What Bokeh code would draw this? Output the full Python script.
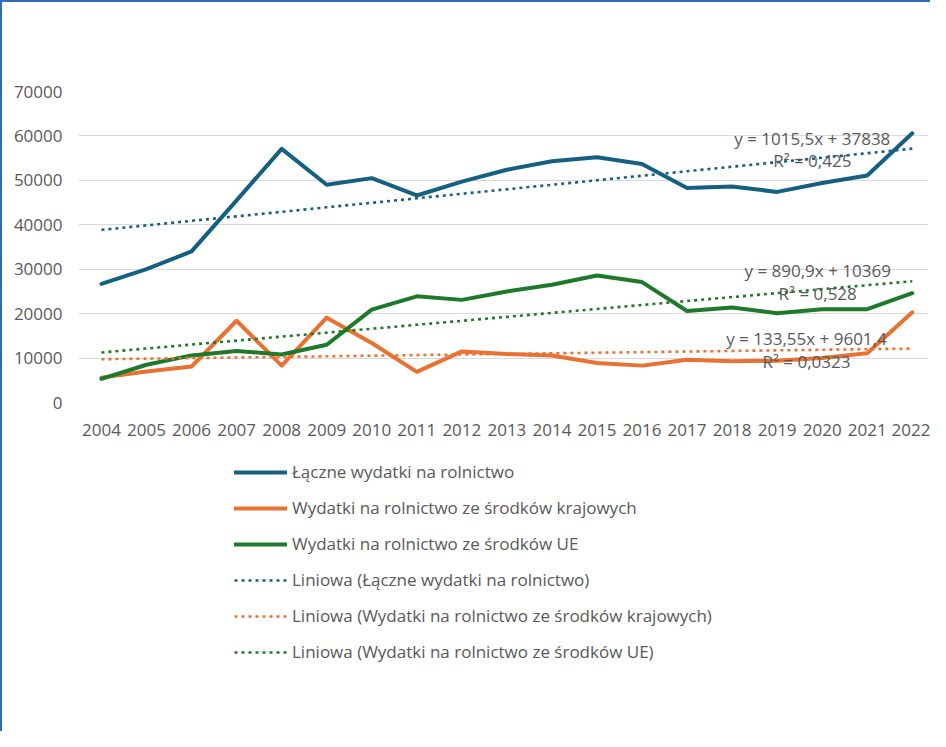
from bokeh.plotting import figure
from bokeh.layouts import column
from bokeh.models import Legend, LegendItem, Label, FixedTicker, Range1d, ColumnDataSource
from bokeh.embed import file_html
from bokeh.resources import INLINE

# ---------------- data ----------------
years = list(range(2004, 2023))
total = [26700, 30000, 34000, 45500, 57100, 49000, 50500, 46600, 49700, 52400,
         54300, 55200, 53700, 48300, 48600, 47400, 49400, 51100, 60600]
national = [5600, 7000, 8100, 18400, 8300, 19100, 13400, 6900, 11500, 10900,
            10600, 8900, 8300, 9600, 9300, 9400, 10000, 11100, 20300]
eu = [5300, 8500, 10600, 11600, 10800, 13000, 20900, 23900, 23100, 25000,
      26500, 28600, 27100, 20600, 21400, 20100, 21000, 21000, 24600]

series_names = ["Łączne wydatki na rolnictwo",
                "Wydatki na rolnictwo ze środków krajowych",
                "Wydatki na rolnictwo ze środków UE"]
trend_names = ["Liniowa (Łączne wydatki na rolnictwo)",
               "Liniowa (Wydatki na rolnictwo ze środków krajowych)",
               "Liniowa (Wydatki na rolnictwo ze środków UE)"]
# linear trend equations as printed on the chart (x = 1..19)
slopes = [1015.5, 133.55, 890.9]
intercepts = [37838, 9601.4, 10369]
eq_texts = ["y = 1015,5x + 37838", "y = 133,55x + 9601,4", "y = 890,9x + 10369"]
r2_texts = ["R² = 0,425", "R² = 0,0323", "R² = 0,528"]
y_ticks = [0, 10000, 20000, 30000, 40000, 50000, 60000, 70000]

# ---------------- style ----------------
colors = ["#156082", "#E97132", "#1E7A2A"]
text_color = "#595959"
font = "Open Sans"
fs = "17px"

x_idx = [i + 1 for i in range(len(years))]
src = ColumnDataSource(dict(year=years, total=total, national=national, eu=eu))
keys = ["total", "national", "eu"]


def draw_series(fig):
    mains, trends = [], []
    for key, c in zip(keys, colors):
        mains.append(fig.line("year", key, source=src, line_color=c, line_width=4,
                              line_join="round", line_cap="round"))
    for s, b, c in zip(slopes, intercepts, colors):
        ty = [s * xi + b for xi in x_idx]
        trends.append(fig.line(years, ty, line_color=c, line_width=2.6,
                               line_dash="3 4"))
    return mains, trends


# ---------------- chart ----------------
p = figure(frame_width=850, frame_height=311, output_backend="svg",
           toolbar_location=None,
           x_range=Range1d(2003.49, 2022.36), y_range=Range1d(0, 70000),
           min_border_left=76, min_border_right=2, min_border_top=89,
           min_border_bottom=47)
p.outline_line_color = None
p.background_fill_color = "white"
p.border_fill_color = "white"
p.xgrid.grid_line_color = None
p.ygrid.grid_line_color = "#D9D9D9"
p.ygrid.grid_line_width = 1
p.yaxis.ticker = FixedTicker(ticks=y_ticks)
p.xaxis.ticker = FixedTicker(ticks=years)
for ax in (p.xaxis, p.yaxis):
    ax.axis_line_color = None
    ax.major_tick_line_color = None
    ax.minor_tick_line_color = None
    ax.major_label_text_font = font
    ax.major_label_text_font_size = fs
    ax.major_label_text_color = text_color
p.yaxis.major_label_standoff = 10
p.xaxis.major_label_standoff = 15

draw_series(p)

eq_pos = [(2019.78, 59420, 54470), (2019.65, 14400, 9230), (2019.9, 29710, 24530)]
for (xx, ye, yr), te, tr in zip(eq_pos, eq_texts, r2_texts):
    for yy, tt in ((ye, te), (yr, tr)):
        p.add_layout(Label(x=xx, y=yy, text=tt, text_align="center",
                           text_baseline="middle", text_font=font,
                           text_font_size=fs, text_color=text_color))

# ---------------- legend area ----------------
q = figure(frame_width=928, frame_height=282, output_backend="svg",
           toolbar_location=None, x_axis_location=None, y_axis_location=None,
           x_range=Range1d(0, 1), y_range=Range1d(0, 1),
           min_border=0)
q.grid.visible = False
q.outline_line_color = None
q.background_fill_color = "white"
q.border_fill_color = "white"
lm, lt = draw_series(q)  # same series; outside this panel's ranges, used for legend keys

items = [LegendItem(label=n, renderers=[r]) for n, r in zip(series_names, lm)]
items += [LegendItem(label=n, renderers=[r]) for n, r in zip(trend_names, lt)]
legend = Legend(items=items, location=(232, 68), orientation="vertical",
                glyph_width=53, glyph_height=20, label_height=20, spacing=13,
                label_standoff=5, padding=0, margin=0,
                label_text_font=font, label_text_font_size=fs,
                label_text_color=text_color, border_line_alpha=0,
                background_fill_alpha=0)
q.add_layout(legend, "center")

layout = column(p, q, spacing=0)
layout.styles = {"border-top": "2px solid #2F6DB5", "border-left": "2px solid #2F6DB5"}

open("out.html", "w").write(file_html(layout, INLINE))
